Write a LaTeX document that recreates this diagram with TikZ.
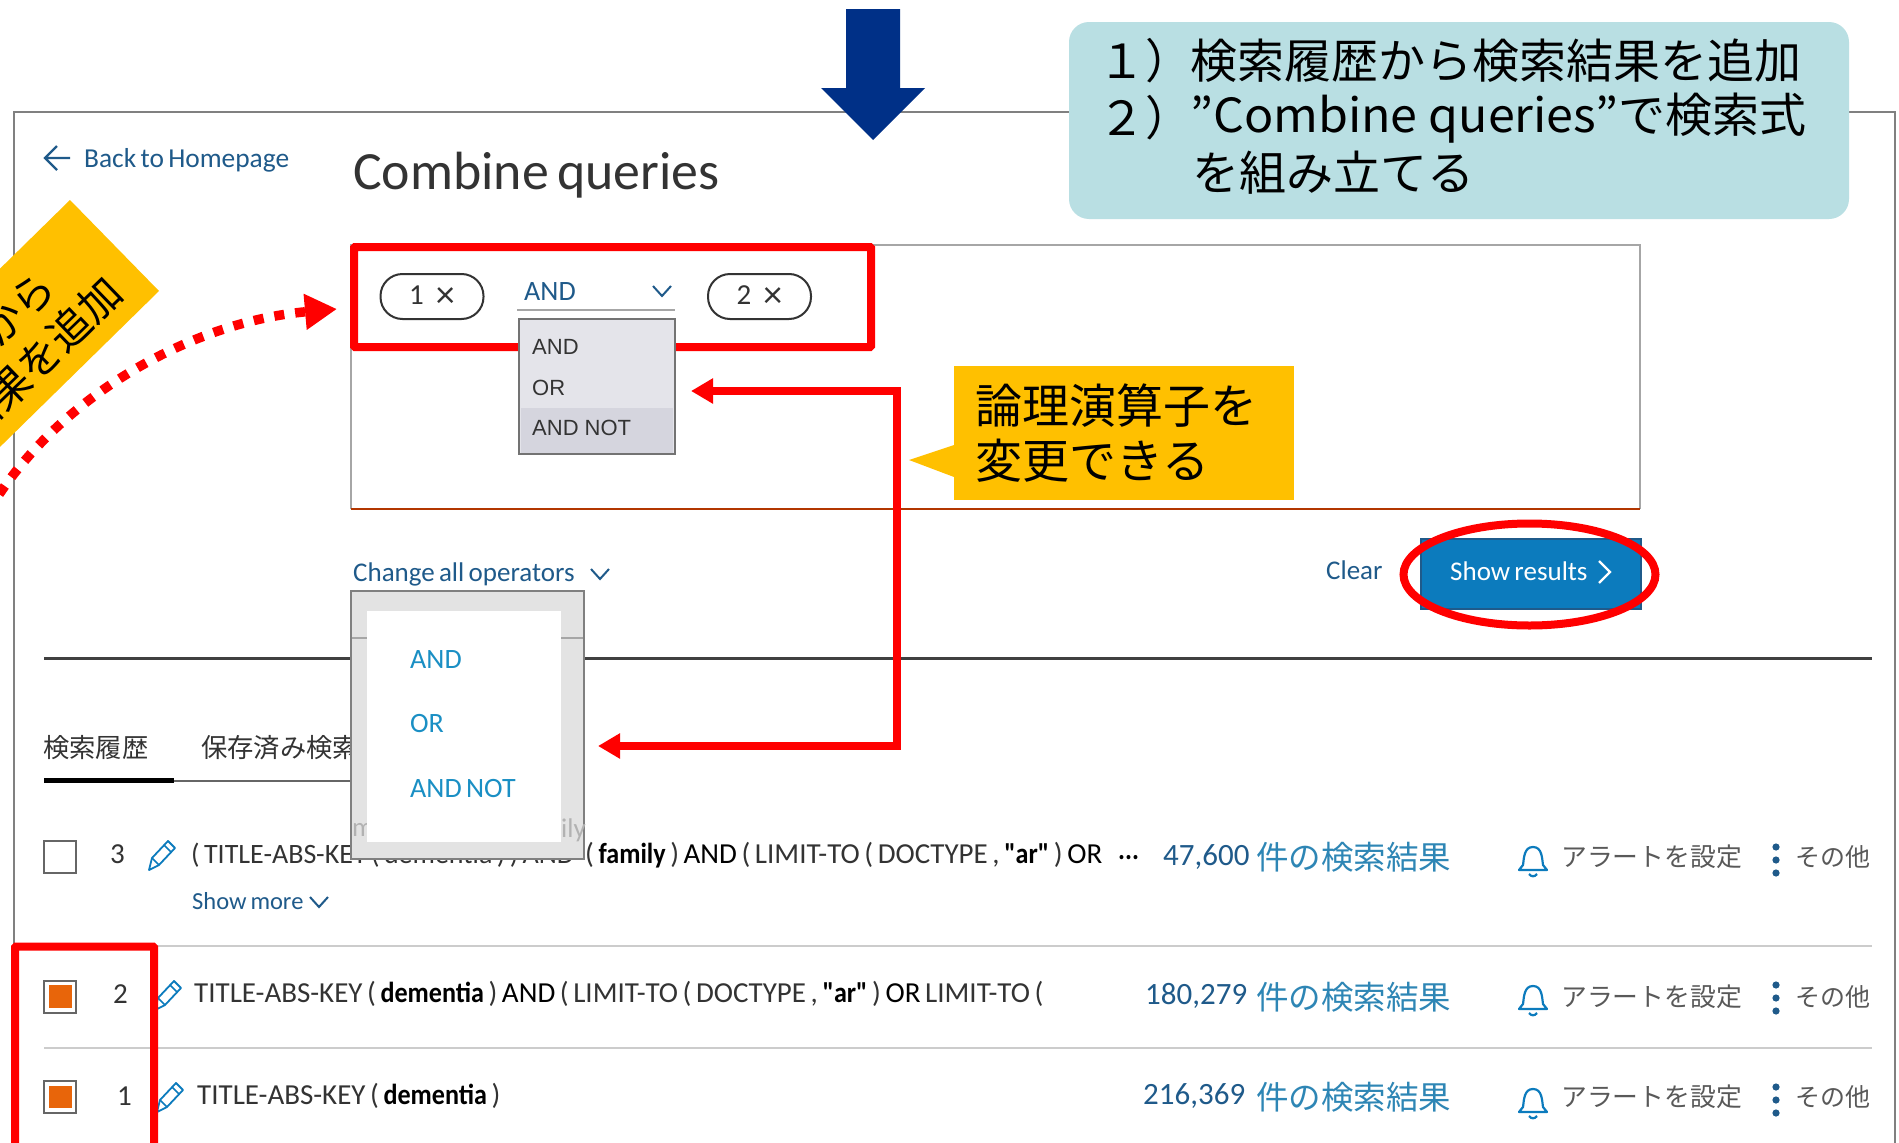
\documentclass[tikz,border=0pt]{standalone}
\usepackage{fontspec}
\setmainfont{Carlito}
\newfontfamily\ui[WordSpace=0.7,BoldFeatures={FakeStretch=0.9}]{Carlito}
\newfontfamily\jp{Noto Sans CJK JP}
\newfontfamily\jpw[FakeStretch=1.03]{Noto Sans CJK JP}
\newfontfamily\libs{Liberation Sans}
\usetikzlibrary{arrows.meta,calc}
\newcommand\fs[1]{\fontsize{#1}{#1}\selectfont}
\newcommand\uf[1]{\ui\fs{#1}}
\definecolor{linkblue}{HTML}{1F5A8A}
\definecolor{brightblue}{HTML}{1A8FC4}
\definecolor{kanjiblue}{HTML}{2E86B5}
\definecolor{framegray}{HTML}{808080}
\definecolor{txt}{HTML}{333333}
\definecolor{amber}{HTML}{FFC000}
\definecolor{teal}{HTML}{B9DFE3}
\definecolor{navy}{HTML}{003087}
\definecolor{tick}{HTML}{E8650A}
\definecolor{btn}{HTML}{0C7BBD}
\tikzset{
  lbl/.style={inner sep=0pt,anchor=west,text=txt},
  jpbig/.style={inner sep=0pt,anchor=west,text=black,font=\jp\fs{47}},
  uitext/.style={lbl,font=\uf{29}},
  linktext/.style={lbl,text=linkblue,font=\uf{27}},
  menutext/.style={lbl,text=brightblue,font=\uf{28}},
  greytext/.style={lbl,font=\libs\fs{22}},
  chev/.style={draw=linkblue,line width=2pt,fill=none},
  redframe/.style={draw=red,line width=8pt,fill=none,rounded corners=1pt},
  redline/.style={draw=red,line width=7.5pt},
  pill/.style={draw=txt,line width=2pt,rounded corners=22pt,minimum width=103pt,minimum height=45pt,inner sep=0pt,font=\uf{29},text=txt},
  chk/.style={draw=framegray!80!black,line width=2pt,fill=white,minimum width=32pt,minimum height=32pt,inner sep=0pt},
  sep/.style={draw=black!20,line width=2.2pt},
}
\newcommand\chevat[2]{\draw[chev] (#1-9,#2-5) -- (#1,#2+5) -- (#1+9,#2-5);}
\newcommand\pencilat[2]{\begin{scope}[shift={(#1,#2)}]
  \draw[draw=btn,line width=1.8pt,line join=round,fill=white] (-13,15) -- (-10,3) -- (6,-14) -- (13,-7) -- (-3,10) -- cycle;
  \draw[draw=btn,line width=1.6pt] (2,-10) -- (9,-3) (-10,3) -- (-3,10);
\end{scope}}
\newcommand\bellat[2]{\begin{scope}[shift={(#1,#2)}]
  \draw[draw=btn,line width=2.2pt,line join=round] (-14,10) -- (-10,5) .. controls (-9,-2) and (-9,-13) .. (0,-13) .. controls (9,-13) and (9,-2) .. (10,5) -- (14,10) -- cycle;
  \draw[draw=btn,line width=2.2pt] (-4,14) .. controls (-2,17) and (2,17) .. (4,14);
\end{scope}}
\begin{document}
\begin{tikzpicture}[x=1pt,y=-1pt]
\clip (0,0) rectangle (1899,1143);
\fill[white] (0,0) rectangle (1899,1143);
% outer frame
\draw[draw=framegray,line width=2pt] (14,950) -- (14,112) -- (1895,112) -- (1895,1143);
% header
\draw[draw=linkblue,line width=2.2pt] (70,158) -- (45,158) (57,146) -- (45,158) -- (57,170);
\node[linktext,font=\uf{27.4}] (back) at (84,160) {Back to Homepage};
\node[lbl,font=\uf{53.8}] (title) at (353,175) {Combine queries};
% query box
\draw[draw=black!35,line width=2pt] (351,509) -- (351,245) -- (1640,245) -- (1640,509);
\draw[draw=red!40!orange!70!black,line width=2pt] (351,509) -- (1640,509);
\node[pill] (q1) at (432,296.5) {\raisebox{3pt}{1}\hspace{12pt}{\fs{38}×}};
\node[pill] (q2) at (759.5,296.5) {\raisebox{3pt}{2}\hspace{12pt}{\fs{38}×}};
\node[linktext,font=\uf{28}] (andlab) at (524,292) {AND};
\chevat{662}{291}
\draw[draw=black!35,line width=2.5pt] (517,310) -- (675,310);
% red frame round the query
\node[redframe,minimum width=517pt,minimum height=100pt,inner sep=0pt] (qframe) at (612.5,297) {};
% operator list 1
\node[draw=black!55,line width=2.5pt,fill=black!5!blue!3!white!92!black,minimum width=156pt,minimum height=135pt,inner sep=0pt] (dd1) at (597,386.5) {};
\fill[fill=blue!4!white!87!black] (521,408) rectangle (673,453);
\node[greytext] (dd1a) at (532,347) {AND};
\node[greytext] (dd1b) at (532,388) {OR};
\node[greytext] (dd1c) at (532,428) {AND NOT};
% change all, clear, show results
\node[linktext] (chg) at (353,574) {Change all operators};
\chevat{600}{574}
\node[linktext] (clear) at (1326,570) {Clear};
\node[fill=btn,draw=linkblue,line width=2pt,minimum width=220pt,minimum height=70pt,inner sep=0pt] (show) at (1531,574) {};
\node[lbl,text=white,font=\uf{27}] (showt) at (1450,571) {Show results};
\draw[draw=white,line width=2.2pt] (1599,561) -- (1610,572) -- (1599,583);
\draw[draw=red,line width=8pt] (1529.5,574.5) ellipse [x radius=126pt,y radius=51pt];
% divider and tabs
\draw[draw=black!75,line width=3pt] (44,658) -- (1872,658);
\node[lbl,font=\jp\fs{26.3}] (tab1) at (43,748) {検索履歴};
\node[lbl,font=\jp\fs{26.3}] (tab2) at (201,748) {保存済み検索};
\draw[draw=black!60,line width=2pt] (174,781) -- (400,781);
\draw[draw=black,line width=5pt] (44,780) -- (174,780);
% row 3
\node[chk] (c3) at (60,856.5) {};
\node[uitext] (n3) at (110,854) {3};
\pencilat{162}{855}
\node[uitext,text=txt,font=\uf{28}] (r3a) at (191,855) {( TITLE-ABS-KEY ( dementia ) ) AND};
\node[uitext] (r3b) at (585,855) {( \textcolor{black}{\textbf{family}} ) \textcolor{black}{AND} ( LIMIT-TO ( DOCTYPE , \textcolor{black}{\textbf{"ar"}} ) \textcolor{black}{OR}};
\node[uitext,text=black] (r3c) at (1118,858) {\textbf{...}};
\node[linktext,font=\uf{24.5}] (more) at (192,901) {Show more};
\chevat{319}{902}
% operator list 2 (covers what is behind it)
\node[draw=black!50,line width=2.5pt,fill=black!11,minimum width=233pt,minimum height=268pt,inner sep=0pt] (dd2) at (467.5,725) {};
\draw[draw=black!35,line width=1.5pt] (352,638) -- (367,638) (561,638) -- (583,638);
\node[lbl,text=black!30,font=\uf{27}] (ghost1) at (352,830) {m};
\node[lbl,text=black!30,font=\uf{27}] (ghost2) at (561,830) {ily};
\fill[white] (367,610.5) rectangle (561,842);
\node[menutext] (m1) at (410,660) {AND};
\node[menutext] (m2) at (410,724) {OR};
\node[menutext] (m3) at (410,789) {AND NOT};
% rows 2, 1
\draw[sep] (44,946) -- (1872,946);
\draw[sep] (44,1048) -- (1872,1048);
\node[chk] (c2) at (60,996.5) {};
\fill[tick] (48.5,985) rectangle (71.5,1007.5);
\node[uitext] (n2) at (113,994) {2};
\pencilat{168}{995}
\node[uitext] (r2) at (194,994) {TITLE-ABS-KEY ( \textcolor{black}{\textbf{dementia}} ) \textcolor{black}{AND} ( LIMIT-TO ( DOCTYPE , \textcolor{black}{\textbf{"ar"}} ) \textcolor{black}{OR} LIMIT-TO (};
\node[chk] (c1) at (60,1097) {};
\fill[tick] (48.5,1086) rectangle (71.5,1108);
\node[uitext] (n1) at (117,1096) {1};
\pencilat{170}{1097}
\node[uitext] (r1) at (197,1096) {TITLE-ABS-KEY ( \textcolor{black}{\textbf{dementia}} )};
% right columns
\node[lbl,text=linkblue,font=\uf{31}] (h3) at (1163,857) {47,600};
\node[lbl,text=linkblue,font=\uf{31}] (h2) at (1145,996) {180,279};
\node[lbl,text=linkblue,font=\uf{31}] (h1) at (1143,1096) {216,369};
\foreach \i/\yy/\by/\dy in {3/857/860/860,2/997/999/998,1/1097/1102/1100}{
  \node[lbl,text=kanjiblue,font=\jp\fs{32.5}] (res\i) at (1256,\yy) {件の検索結果};
  \bellat{1533}{\by}
  \node[lbl,text=black!65,font=\jp\fs{25.8}] (alert\i) at (1561,\yy) {アラートを設定};
  \fill[linkblue] (1776,\dy-13) circle (3.6pt) (1776,\dy) circle (3.6pt) (1776,\dy+13) circle (3.6pt);
  \node[lbl,text=black!65,font=\jp\fs{25}] (other\i) at (1795,\yy) {その他};
}
% red box round the ticks
\node[redframe,minimum width=139pt,minimum height=203pt,inner sep=0pt] (tframe) at (84.5,1048) {};
% blue arrow
\fill[navy] (846,9) -- (900,9) -- (900,88) -- (925,88) -- (873,140) -- (821,88) -- (846,88) -- cycle;
% teal note
\node[fill=teal,rounded corners=20pt,minimum width=780pt,minimum height=197pt,inner sep=0pt] (note) at (1459,120.5) {};
\node[jpbig] (t1a) at (1098,61) {１）};
\node[jpbig] (t1b) at (1190,61) {検索履歴から検索結果を追加};
\node[jpbig] (t2a) at (1098,118) {２）};
\node[jpbig] (t2b) at (1190,118) {{\jpw ”Combine queries”}で検索式};
\node[jpbig] (t3) at (1192,173) {を組み立てる};
% amber callout
\fill[amber] (954,445) -- (909,460) -- (954,477) -- cycle;
\node[fill=amber,minimum width=340pt,minimum height=134pt,inner sep=0pt] (call) at (1124,433) {};
\node[jpbig] (ca) at (975,406) {論理演算子を};
\node[jpbig] (cb) at (975,461) {変更できる};
% amber tilted label
\fill[amber] (70,200) -- (159,291) -- (-100,545) -- (-189,454) -- cycle;
\node[inner sep=0pt,anchor=east,rotate=44,font=\jp\fs{42}] (s1) at (48,280) {検索履歴から};
\node[inner sep=0pt,anchor=east,rotate=44,font=\jp\fs{42}] (s2) at (115,285) {検索結果を追加};
% red connectors
\coordinate (tipA) at (691,391);
\coordinate (tipB) at (598,746);
\coordinate (cornA) at (897,391);
\coordinate (cornB) at (897,746);
\draw[redline,miter limit=4,{Triangle[length=22pt,width=24pt]}-{Triangle[length=22pt,width=24pt]}] (tipA) -- (cornA) -- (cornB) -- (tipB);
\coordinate (arcS) at (-12,512);
\coordinate (arcE) at (337,309);
\draw[draw=red,line width=9.5pt,dash pattern=on 10pt off 11pt,-{Triangle[length=32pt,width=34pt]}] (arcS) .. controls (55,398) and (190,322) .. (arcE);
\end{tikzpicture}
\end{document}
